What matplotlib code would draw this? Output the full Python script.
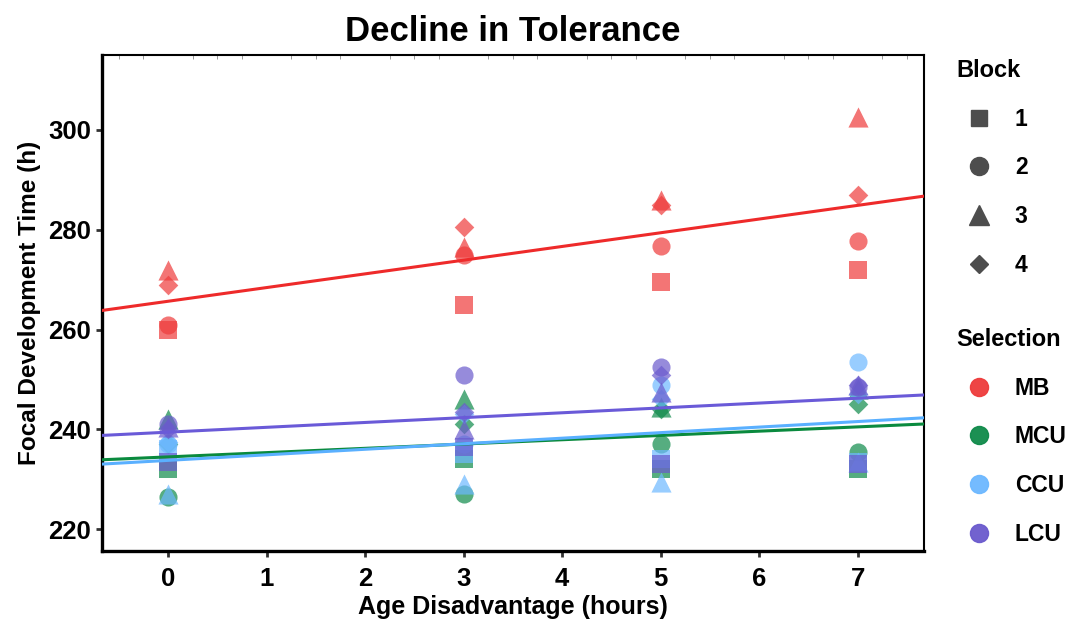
import numpy as np
import matplotlib.pyplot as plt
from matplotlib.lines import Line2D

plt.rcParams['font.family'] = ['Liberation Sans', 'DejaVu Sans']
plt.rcParams['font.weight'] = 'bold'

# ---------------- data ----------------
age = [0, 3, 5, 7]
blocks = ['1', '2', '3', '4']
selections = ['MB', 'MCU', 'CCU', 'LCU']
colors = {'MB': '#EE3B3B', 'MCU': '#0F8A4A', 'CCU': '#6CB8FF', 'LCU': '#6A5ACD'}
line_colors = {'MB': '#EE2A2A', 'MCU': '#0A8A3E', 'CCU': '#5AB0FF', 'LCU': '#6A5AD8'}
markers = {'1': 's', '2': 'o', '3': '^', '4': 'D'}

# dev time [block][age index]
MB = {'1': [260, 265, 269.5, 272],
      '2': [261, 275, 276.7, 277.7],
      '3': [272, 276.5, 286, 302.5],
      '4': [269, 280.5, 285, 287]}
MCU = {'1': [232, 234, 232, 232],
       '2': [226.5, 227, 237, 235.5],
       '3': [242, 246, 244.5, 248],
       '4': [237, 241, 244, 245]}
CCU = {'1': [236, 235, 234, 233.5],
       '2': [237, 237, 249, 253.5],
       '3': [227, 229, 229.5, 233.5],
       '4': [237.5, 243, 246, 247]}
LCU = {'1': [233.5, 236.5, 233, 233],
       '2': [241, 251, 252.5, 248.5],
       '3': [240.5, 240, 247.5, 249],
       '4': [240, 243.5, 251, 249]}
data = {'MB': MB, 'MCU': MCU, 'CCU': CCU, 'LCU': LCU}

# ---------------- plot ----------------
fig = plt.figure(figsize=(10.74, 6.25), dpi=100)
ax = fig.add_axes([0.095, 0.118, 0.765, 0.794])

msize = {'s': 150, 'o': 170, '^': 210, 'D': 100}
for sel in selections:
    for b in blocks:
        ax.scatter(age, data[sel][b], marker=markers[b], s=msize[markers[b]],
                   color=colors[sel], alpha=0.7, linewidths=0, zorder=3)

xl = np.array([-0.67, 7.67])
for sel in selections:
    xs = np.concatenate([age for b in blocks])
    ys = np.concatenate([data[sel][b] for b in blocks])
    k, c = np.polyfit(xs, ys, 1)
    ax.plot(xl, k * xl + c, color=line_colors[sel], lw=2.2, zorder=4)

ax.set_xlim(-0.67, 7.67)
ax.set_ylim(215.6, 315)
ax.set_xticks(range(0, 8))
ax.set_yticks([220, 240, 260, 280, 300])
ax.tick_params(axis='both', labelsize=18.5, width=2, length=4, color='#333333', pad=4)
ax.tick_params(axis='x', pad=7)
for lab in ax.get_xticklabels() + ax.get_yticklabels():
    lab.set_fontweight('bold')
ax.set_xticks(np.arange(-0.5, 7.75, 0.25), minor=True)
ax.tick_params(axis='x', which='minor', bottom=False, top=True, direction='in',
               length=3, color='#888888')
for side in ['left', 'bottom']:
    ax.spines[side].set_linewidth(2.4)
for side in ['top', 'right']:
    ax.spines[side].set_linewidth(1.5)

ax.set_xlabel('Age Disadvantage (hours)', fontsize=18, fontweight='bold', labelpad=3)
ax.set_ylabel('Focal Development Time (h)', fontsize=17.5, fontweight='bold', labelpad=5)
ax.set_title('Decline in Tolerance', fontsize=25, fontweight='bold', pad=10)

# legends
h_block = [Line2D([], [], ls='', marker=markers[b], color='#4D4D4D',
                  markersize={'s': 12, 'o': 13, '^': 15, 'D': 9}[markers[b]])
           for b in blocks]
leg1 = fig.legend(h_block, blocks, title='Block', loc='upper left',
                  bbox_to_anchor=(0.882, 0.92), frameon=False,
                  prop={'size': 16.5, 'weight': 'bold'}, labelspacing=1.12,
                  handletextpad=0.55, handlelength=2.0, borderaxespad=0)
leg1.get_title().set_fontweight('bold')
leg1.get_title().set_fontsize(17)
leg1._legend_box.align = 'left'

h_sel = [Line2D([], [], ls='', marker='o', color=colors[s], markersize=13, alpha=0.95)
         for s in selections]
leg2 = fig.legend(h_sel, selections, title='Selection', loc='upper left',
                  bbox_to_anchor=(0.882, 0.49), frameon=False,
                  prop={'size': 16.5, 'weight': 'bold'}, labelspacing=1.12,
                  handletextpad=0.55, handlelength=2.0, borderaxespad=0)
leg2.get_title().set_fontweight('bold')
leg2.get_title().set_fontsize(17)
leg2._legend_box.align = 'left'

fig.savefig('out.png', dpi=100)
